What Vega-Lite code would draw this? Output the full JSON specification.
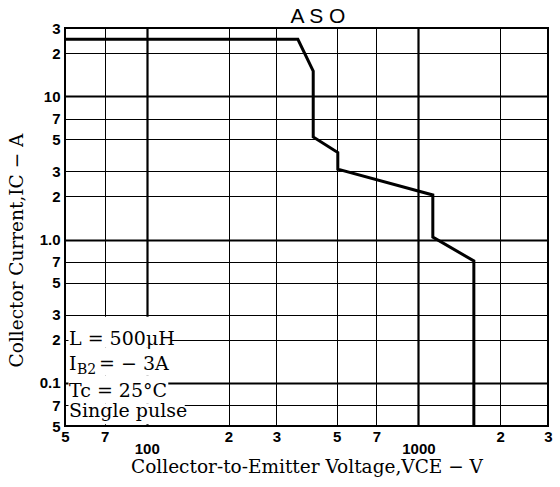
{
  "$schema": "https://vega.github.io/schema/vega-lite/v6.json",
  "width": 483,
  "height": 398,
  "autosize": "none",
  "padding": {"left": 65, "top": 28, "right": 12, "bottom": 61},
  "background": "white",
  "title": {"text": "A S O", "fontSize": 21, "font": "Liberation Sans", "fontWeight": "normal", "color": "black", "dx": 11.5, "offset": 0, "dy": 6},
  "config": {
    "view": {"stroke": "black", "strokeWidth": 2},
    "axis": {
      "labelFont": "Liberation Sans Narrow, Liberation Sans, sans-serif",
      "labelFontSize": 15,
      "labelFontWeight": "bold",
      "labelColor": "black",
      "titleFont": "DejaVu Serif",
      "titleFontSize": 18.5,
      "titleFontWeight": "normal",
      "titleColor": "black",
      "ticks": false,
      "domain": false,
      "gridColor": "black",
      "gridOpacity": 1
    }
  },
  "datasets": {
    "curve": [
      {"k": 1, "V": 50, "I": 25},
      {"k": 2, "V": 360, "I": 25},
      {"k": 3, "V": 410, "I": 15},
      {"k": 4, "V": 410, "I": 5.2},
      {"k": 5, "V": 505, "I": 4.05},
      {"k": 6, "V": 505, "I": 3.1},
      {"k": 7, "V": 1130, "I": 2.05},
      {"k": 8, "V": 1130, "I": 1.04},
      {"k": 9, "V": 1600, "I": 0.71},
      {"k": 10, "V": 1600, "I": 0.05}
    ],
    "boxes": [
      {"x1": 51.5, "x2": 123, "y1": 0.176, "y2": 0.29},
      {"x1": 51.5, "x2": 123, "y1": 0.112, "y2": 0.176},
      {"x1": 51.5, "x2": 120, "y1": 0.072, "y2": 0.112},
      {"x1": 51.5, "x2": 138, "y1": 0.0515, "y2": 0.072}
    ],
    "notes": [
      {"g": "main", "V": 50, "I": 0.184, "t": "L = 500μH"},
      {"g": "main", "V": 50, "I": 0.123, "t": "I"},
      {"g": "sub", "V": 50, "I": 0.123, "t": "B2"},
      {"g": "rest", "V": 50, "I": 0.123, "t": "= − 3A"},
      {"g": "main", "V": 50, "I": 0.0797, "t": "Tc = 25°C"},
      {"g": "main", "V": 50, "I": 0.0578, "t": "Single pulse"}
    ]
  },
  "layer": [
    {
      "data": {"name": "curve"},
      "mark": {"type": "line", "color": "black", "strokeWidth": 3, "clip": true},
      "encoding": {
        "x": {
          "field": "V", "type": "quantitative",
          "scale": {"type": "log", "domain": [50, 3000], "nice": false},
          "axis": {
            "orient": "bottom",
            "values": [50, 70, 100, 200, 300, 500, 700, 1000, 2000, 3000],
            "labelExpr": "datum.value==100||datum.value==1000 ? '' : ''+round(datum.value/pow(10, floor(log(datum.value)/LN10+1e-6)))",
            "labelPadding": 3,
            "labelFlush": false,
            "labelOverlap": false,
            "gridWidth": {"condition": {"test": "datum.value==100||datum.value==1000", "value": 2.2}, "value": 1},
            "title": "Collector-to-Emitter Voltage,VCE − V",
            "titlePadding": 13
          }
        },
        "y": {
          "field": "I", "type": "quantitative",
          "scale": {"type": "log", "domain": [0.05, 30], "nice": false},
          "axis": {
            "values": [0.05, 0.07, 0.1, 0.2, 0.3, 0.5, 0.7, 1, 2, 3, 5, 7, 10, 20, 30],
            "labelExpr": "datum.value==0.1 ? '0.1' : datum.value==1 ? '1.0' : datum.value==10 ? '10' : ''+round(datum.value/pow(10, floor(log(datum.value)/LN10+1e-6)))",
            "labelPadding": 5,
            "labelFlush": false,
            "labelOverlap": false,
            "gridWidth": {"condition": {"test": "datum.value==10||datum.value==1||datum.value==0.1", "value": 2.2}, "value": 1},
            "title": "Collector Current,IC − A",
            "titlePadding": 13,
            "titleY": 222
          }
        },
        "order": {"field": "k", "type": "quantitative"}
      }
    },
    {
      "data": {"name": "boxes"},
      "mark": {"type": "rect", "fill": "white"},
      "encoding": {
        "x": {
          "field": "x1", "type": "quantitative",
          "scale": {"type": "log", "domain": [50, 3000], "nice": false},
          "axis": {
            "orient": "bottom",
            "values": [100, 1000],
            "labelExpr": "''+datum.value",
            "grid": false,
            "labelPadding": 15,
            "labelFlush": false,
            "title": null
          }
        },
        "x2": {"field": "x2"},
        "y": {"field": "y1", "type": "quantitative", "scale": {"type": "log", "domain": [0.05, 30], "nice": false}},
        "y2": {"field": "y2"}
      }
    },
    {
      "data": {"name": "notes"},
      "transform": [{"filter": "datum.g == 'main'"}],
      "mark": {"type": "text", "font": "DejaVu Serif", "fontSize": 19, "align": "left", "baseline": "alphabetic", "color": "black", "dx": 4},
      "encoding": {
        "x": {"field": "V", "type": "quantitative", "scale": {"type": "log", "domain": [50, 3000], "nice": false}, "axis": null},
        "y": {"field": "I", "type": "quantitative", "scale": {"type": "log", "domain": [0.05, 30], "nice": false}},
        "text": {"field": "t"}
      }
    },
    {
      "data": {"name": "notes"},
      "transform": [{"filter": "datum.g == 'sub'"}],
      "mark": {"type": "text", "font": "DejaVu Serif", "fontSize": 14, "align": "left", "baseline": "alphabetic", "color": "black", "dx": 12, "dy": 4},
      "encoding": {
        "x": {"field": "V", "type": "quantitative", "scale": {"type": "log", "domain": [50, 3000], "nice": false}, "axis": null},
        "y": {"field": "I", "type": "quantitative", "scale": {"type": "log", "domain": [0.05, 30], "nice": false}},
        "text": {"field": "t"}
      }
    },
    {
      "data": {"name": "notes"},
      "transform": [{"filter": "datum.g == 'rest'"}],
      "mark": {"type": "text", "font": "DejaVu Serif", "fontSize": 19, "align": "left", "baseline": "alphabetic", "color": "black", "dx": 34},
      "encoding": {
        "x": {"field": "V", "type": "quantitative", "scale": {"type": "log", "domain": [50, 3000], "nice": false}, "axis": null},
        "y": {"field": "I", "type": "quantitative", "scale": {"type": "log", "domain": [0.05, 30], "nice": false}},
        "text": {"field": "t"}
      }
    }
  ],
  "resolve": {"axis": {"x": "independent"}}
}
